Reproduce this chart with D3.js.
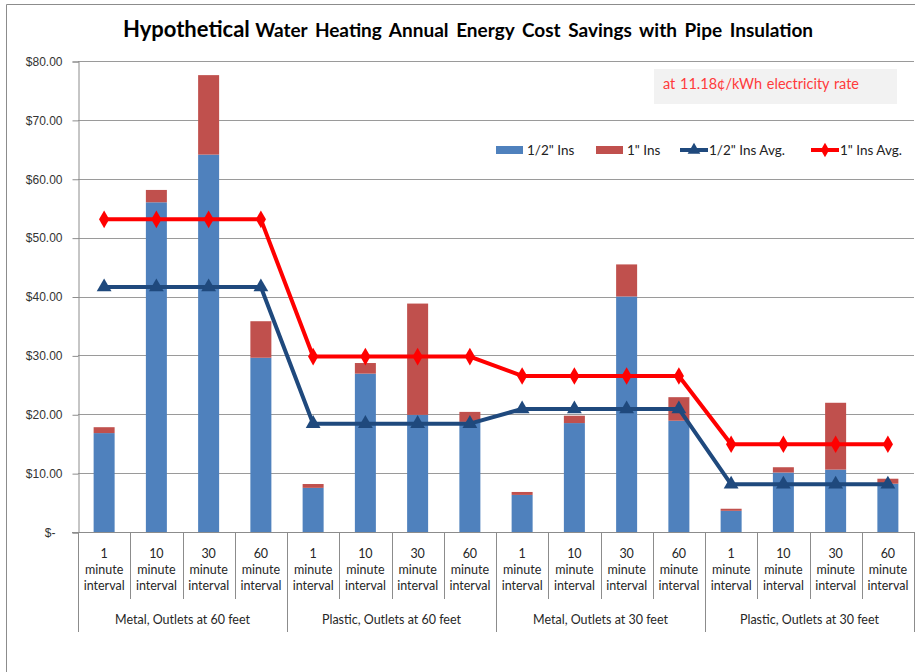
<!DOCTYPE html>
<html>
<head>
<meta charset="utf-8">
<script src="https://cdn.jsdelivr.net/npm/d3@7"></script>
<style>
  body { margin: 0; background: #fff; }
  svg { font-family: Lato, "Open Sans", sans-serif; }
</style>
</head>
<body>
<div id="chart"></div>
<script>
const width = 915, height = 672;
const margin = {top: 61, right: 1, bottom: 140, left: 78};

// chart data
const groups = ["Metal, Outlets at 60 feet", "Plastic, Outlets at 60 feet",
                "Metal, Outlets at 30 feet", "Plastic, Outlets at 30 feet"];
const intervals = ["1", "10", "30", "60"];
const halfIns = [16.8, 56.0, 64.1, 29.6, 7.5, 26.9, 19.9, 18.7,
                 6.3, 18.5, 40.0, 18.9, 3.6, 10.1, 10.6, 8.2];
const oneInsExtra = [1.0, 2.1, 13.5, 6.2, 0.65, 1.8, 18.9, 1.7,
                     0.5, 1.25, 5.45, 4.0, 0.35, 0.9, 11.35, 0.85];
const halfAvg = [41.6, 41.6, 41.6, 41.6, 18.4, 18.4, 18.4, 18.4,
                 20.9, 20.9, 20.9, 20.9, 8.1, 8.1, 8.1, 8.1];
const oneAvg = [53.1, 53.1, 53.1, 53.1, 29.8, 29.8, 29.8, 29.8,
                26.5, 26.5, 26.5, 26.5, 14.9, 14.9, 14.9, 14.9];
const yTicks = [0, 10, 20, 30, 40, 50, 60, 70, 80];

const blue = "#4f81bd", red = "#c0504d", avgBlue = "#1f497d", avgRed = "#ff0000";

// one entry per category (group x interval)
let cats = [];
groups.forEach(function (g, gi) {
    intervals.forEach(function (iv, ii) {
        cats.push({id: gi * 4 + ii, group: g, interval: iv});
    });
});

let svg = d3.select("#chart").append("svg")
    .attr("width", width)
    .attr("height", height);

// outer chart frame
svg.append("path")
    .attr("d", "M6.5,672 V4.5 H915")
    .attr("fill", "none")
    .attr("stroke", "#8c8c8c");

let x = d3.scaleBand()
    .domain(cats.map(d => d.id))
    .range([margin.left, width - margin.right])
    .padding(0);

let y = d3.scaleLinear()
    .domain([0, 80])
    .range([532, margin.top]);

// gridlines
svg.append("g")
    .selectAll("line")
    .data(yTicks.filter(d => d > 0))
    .enter().append("line")
    .attr("x1", margin.left)
    .attr("x2", width - margin.right)
    .attr("y1", d => Math.round(y(d)) + 0.5)
    .attr("y2", d => Math.round(y(d)) + 0.5)
    .attr("stroke", "#9a9a9a");

// y axis
let yAxis = svg.append("g")
    .attr("transform", `translate(${margin.left + 0.5},0.5)`)
    .call(d3.axisLeft(y).tickValues(yTicks).tickSize(6).tickPadding(10)
        .tickFormat(d => d === 0 ? "$-" : "$" + d.toFixed(2)));
yAxis.select(".domain").attr("stroke", "#8c8c8c");
yAxis.selectAll(".tick line").attr("stroke", "#8c8c8c");
yAxis.selectAll(".tick text")
    .attr("fill", "#333")
    .style("font-size", "12px")
    .attr("dx", d => d === 0 ? -7 : 0);

// stacked bars
let barW = 21;
svg.append("g").selectAll("rect")
    .data(cats)
    .enter().append("rect")
    .attr("x", d => x(d.id) + x.bandwidth() / 2 - barW / 2)
    .attr("y", d => y(halfIns[d.id]))
    .attr("width", barW)
    .attr("height", d => y(0) - y(halfIns[d.id]))
    .attr("fill", blue);

svg.append("g").selectAll("rect")
    .data(cats)
    .enter().append("rect")
    .attr("x", d => x(d.id) + x.bandwidth() / 2 - barW / 2)
    .attr("y", d => y(halfIns[d.id] + oneInsExtra[d.id]))
    .attr("width", barW)
    .attr("height", d => y(halfIns[d.id]) - y(halfIns[d.id] + oneInsExtra[d.id]))
    .attr("fill", red);

// x axis line and category separators
let xa = svg.append("g").attr("stroke", "#8c8c8c");
xa.append("line")
    .attr("x1", margin.left - 6).attr("x2", width - margin.right)
    .attr("y1", 532.5).attr("y2", 532.5);
xa.selectAll(".sep")
    .data(d3.range(17))
    .enter().append("line")
    .attr("x1", i => Math.round(i < 16 ? x(i) : x(15) + x.bandwidth()) + 0.5)
    .attr("x2", i => Math.round(i < 16 ? x(i) : x(15) + x.bandwidth()) + 0.5)
    .attr("y1", 532)
    .attr("y2", i => i % 4 === 0 ? 632 : 599);

// category labels
let catText = svg.append("g").selectAll("text")
    .data(cats)
    .enter().append("text")
    .attr("text-anchor", "middle")
    .attr("fill", "#262626")
    .style("font-size", "12.5px");
catText.each(function (d) {
    let cx = x(d.id) + x.bandwidth() / 2;
    [d.interval, "minute", "interval"].forEach(function (s, i) {
        d3.select(this).append("tspan")
            .attr("x", cx)
            .attr("y", 558 + i * 16)
            .text(s);
    }, this);
});

// group labels
svg.append("g").selectAll("text")
    .data(groups)
    .enter().append("text")
    .attr("x", (d, i) => x(i * 4) + x.bandwidth() * 2)
    .attr("y", 624)
    .attr("text-anchor", "middle")
    .attr("fill", "#262626")
    .style("font-size", "12.5px")
    .text(d => d);

// average lines
function drawAvg(values, color, symbol, size) {
    let line = d3.line()
        .x(d => x(d.id) + x.bandwidth() / 2)
        .y(d => y(values[d.id]));
    svg.append("path")
        .datum(cats)
        .attr("d", line)
        .attr("fill", "none")
        .attr("stroke", color)
        .attr("stroke-width", 4)
        .attr("stroke-linejoin", "round");
    svg.append("g").selectAll("path")
        .data(cats)
        .enter().append("path")
        .attr("transform", d => `translate(${x(d.id) + x.bandwidth() / 2},${y(values[d.id])})`)
        .attr("d", d3.symbol().type(symbol).size(size))
        .attr("fill", color);
}
drawAvg(halfAvg, avgBlue, d3.symbolTriangle, 95);
drawAvg(oneAvg, avgRed, d3.symbolDiamond, 90);

// title
let title = svg.append("text")
    .attr("x", 468)
    .attr("y", 37)
    .attr("text-anchor", "middle")
    .attr("fill", "#000")
    .style("font-weight", "bold");
title.append("tspan").style("font-size", "22px").text("Hypothetical ");
title.append("tspan").style("font-size", "19px").style("word-spacing", "3px")
    .text("Water Heating Annual Energy Cost Savings with Pipe Insulation");

// rate note
svg.append("rect")
    .attr("x", 654).attr("y", 69)
    .attr("width", 243).attr("height", 35)
    .attr("fill", "#f2f2f2");
svg.append("text")
    .attr("x", 663).attr("y", 89)
    .attr("fill", "#ff3b3b")
    .style("font-size", "14.5px")
    .style("word-spacing", "1px")
    .text("at 11.18\u00a2/kWh electricity rate");

// legend
let legend = svg.append("g").style("font-size", "13.5px").attr("fill", "#222");
legend.append("rect").attr("x", 496).attr("y", 146).attr("width", 27).attr("height", 8).attr("fill", blue);
legend.append("text").attr("x", 527).attr("y", 155).text("1/2\" Ins");
legend.append("rect").attr("x", 596).attr("y", 146).attr("width", 27).attr("height", 8).attr("fill", red);
legend.append("text").attr("x", 627).attr("y", 155).text("1\" Ins");
legend.append("line").attr("x1", 680).attr("x2", 708).attr("y1", 150).attr("y2", 150)
    .attr("stroke", avgBlue).attr("stroke-width", 4);
legend.append("path").attr("transform", "translate(694,150)")
    .attr("d", d3.symbol().type(d3.symbolTriangle).size(70)).attr("fill", avgBlue);
legend.append("text").attr("x", 709).attr("y", 155).text("1/2\" Ins Avg.");
legend.append("line").attr("x1", 811).attr("x2", 839).attr("y1", 150).attr("y2", 150)
    .attr("stroke", avgRed).attr("stroke-width", 4);
legend.append("path").attr("transform", "translate(825,150)")
    .attr("d", d3.symbol().type(d3.symbolDiamond).size(60)).attr("fill", avgRed);
legend.append("text").attr("x", 840).attr("y", 155).text("1\" Ins Avg.");
</script>
</body>
</html>
